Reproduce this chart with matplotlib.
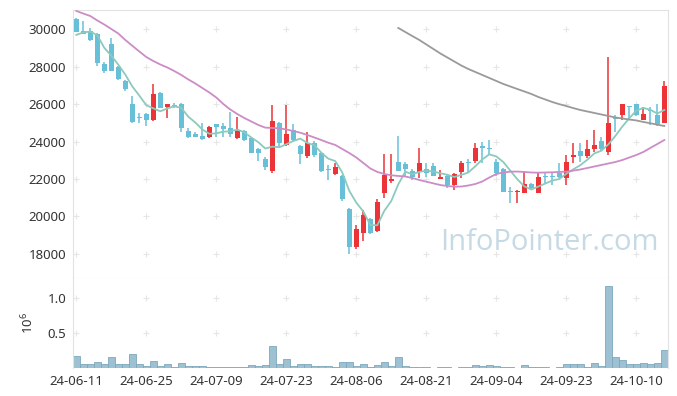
import matplotlib
matplotlib.use("Agg")
import matplotlib.pyplot as plt
from matplotlib.ticker import FuncFormatter
import numpy as np

plt.rcParams["font.family"] = ["Noto Sans", "DejaVu Sans"]
plt.rcParams["mathtext.default"] = "regular"

# daily candles, 24-06-11 .. 24-10-16 (index based axis)
opens = [30550, 29910, 29925, 29750, 28150, 29215, 28000, 27255, 26010, 25315,
         25475, 25155, 26610, 25830, 25980, 26010, 24570, 24410, 24315, 24260,
         24925, 24835, 24730, 24210, 24565, 24210, 23605, 23070, 22445, 24980,
         23845, 24620, 23765, 23230, 23925, 23390, 22510, 22255, 22160, 20380,
         18385, 19100, 19850, 19240, 21270, 21910, 22895, 22805, 22430, 22395,
         22535, 22695, 22020, 22160, 21680, 22395, 22880, 22965, 23780, 23640,
         22925, 22520, 21365, 21310, 21270, 21720, 21270, 22150, 22140, 22305,
         22040, 23160, 23500, 23230, 23590, 24030, 23460, 25230, 25420, 25880,
         26010, 25180, 25680, 25420, 25010]
highs = [30600, 30460, 30050, 29800, 28240, 29520, 28040, 27290, 26440, 25545,
         25530, 27080, 26665, 26035, 26080, 26080, 24710, 24530, 25020, 24810,
         24940, 25010, 25600, 25290, 24620, 24245, 23660, 23180, 25955, 25050,
         25955, 24925, 23820, 24530, 24030, 23445, 22750, 22840, 22215, 20450,
         19545, 20345, 19920, 20920, 23320, 23320, 24300, 22910, 22535, 23645,
         22840, 22840, 22485, 22215, 22325, 22980, 23055, 23940, 23995, 24085,
         23055, 22590, 21590, 21415, 22395, 21790, 22340, 22340, 22395, 22840,
         23285, 23910, 23910, 24085, 24620, 24260, 28505, 25420, 26035, 25920,
         26035, 25850, 25830, 26010, 27240]
lows = [29850, 29750, 29400, 28040, 27650, 27745, 27290, 26720, 25010, 24980,
        24810, 25120, 25770, 25245, 25770, 24530, 24195, 24220, 24085, 24175,
        24260, 24230, 24260, 24165, 24030, 23365, 22980, 22480, 22340, 23730,
        23765, 24030, 22805, 23125, 23180, 22380, 21950, 22215, 20830, 17995,
        18245, 18705, 19065, 19170, 20970, 21805, 22405, 22125, 21950, 22070,
        22125, 22165, 22020, 21540, 21415, 22050, 22340, 22860, 22840, 23285,
        22165, 21310, 20705, 20705, 21240, 21415, 21255, 21790, 21680, 22055,
        21680, 22875, 22925, 23110, 23460, 23500, 23285, 24530, 25155, 25155,
        25365, 25155, 24890, 24835, 25010]
closes = [29870, 29765, 29430, 28215, 27770, 27780, 27345, 26810, 25065, 25280,
          25180, 26545, 25810, 26010, 25900, 24710, 24220, 24260, 24140, 24765,
          24795, 24675, 24380, 24565, 24085, 23410, 23410, 22660, 25100, 23910,
          24405, 24085, 23320, 23940, 23285, 22430, 22460, 22660, 20920, 18355,
          19315, 20080, 19100, 20775, 22215, 21985, 22445, 22535, 22095, 22840,
          22340, 22180, 22095, 21680, 22270, 22875, 22840, 23640, 23640, 23600,
          22340, 21325, 21325, 21345, 21720, 21505, 22125, 22125, 22115, 22125,
          22925, 23285, 23230, 23605, 23820, 23605, 24995, 25200, 26010, 25860,
          25420, 25475, 25650, 24940, 26970]
volumes_m = [0.17, 0.05, 0.05, 0.09, 0.05, 0.16, 0.05, 0.05, 0.20, 0.05,
             0.03, 0.10, 0.03, 0.05, 0.01, 0.07, 0.03, 0.03, 0.03, 0.01,
             0.01, 0.01, 0.02, 0.02, 0.02, 0.04, 0.03, 0.04, 0.32, 0.05,
             0.13, 0.03, 0.05, 0.05, 0.03, 0.03, 0.03, 0.01, 0.08, 0.08,
             0.03, 0.06, 0.01, 0.04, 0.09, 0.03, 0.16, 0.03, 0.01, 0.02,
             0.01, 0.003, 0.01, 0.01, 0.003, 0.01, 0.01, 0.04, 0.03, 0.04,
             0.03, 0.01, 0.01, 0.003, 0.04, 0.01, 0.01, 0.01, 0.003, 0.01,
             0.06, 0.06, 0.05, 0.01, 0.07, 0.03, 1.17, 0.16, 0.12, 0.06,
             0.06, 0.07, 0.06, 0.07, 0.26]

# moving averages
ma5 = [29700, 29830, 29880, 29680, 29010, 28590, 28110, 27580, 26950, 26460,
       25940, 25780, 25620, 25770, 25890, 25800, 25330, 25020, 24650, 24420,
       24440, 24530, 24550, 24640, 24500, 24220, 23970, 23630, 23730, 23700,
       23860, 24030, 24160, 23930, 23810, 23410, 23090, 22960, 22350, 21370,
       20740, 20270, 19550, 19530, 20300, 20830, 21720, 22390, 22260, 22380,
       22450, 22400, 22310, 22230, 22110, 22220, 22350, 22680, 23050, 23320,
       23210, 22910, 22450, 21990, 21610, 21440, 21600, 21760, 21920, 22000,
       22280, 22520, 22740, 23030, 23370, 23510, 23850, 24300, 24800, 25250,
       25650, 25800, 25700, 25500, 25690]
ma20 = [30980, 30840, 30710, 30470, 30255, 30015, 29775, 29430, 29120, 28815,
        28520, 28305, 28120, 27960, 27770, 27560, 27320, 27105, 26865, 26625,
        26355, 26010, 25715, 25475, 25260, 25075, 24890, 24745, 24730, 24710,
        24650, 24565, 24475, 24355, 24220, 24085, 23940, 23820, 23605, 23390,
        23150, 22860, 22565, 22380, 22270, 22200, 22165, 22135, 22055, 21950,
        21860, 21770, 21680, 21630, 21590, 21600, 21655, 21735, 21870, 22080,
        22270, 22350, 22395, 22400, 22380, 22350, 22340, 22350, 22360, 22380,
        22395, 22450, 22510, 22590, 22670, 22750, 22830, 22910, 23015, 23150,
        23285, 23445, 23660, 23870, 24085]
ma60_start = 46
ma60 = [30070, 29855, 29640, 29430, 29190, 28950, 28710, 28495, 28280, 28065,
        27880, 27720, 27560, 27400, 27240, 27080, 26945, 26810, 26680, 26545,
        26385, 26250, 26115, 26000, 25900, 25790, 25690, 25610, 25530, 25450,
        25370, 25290, 25235, 25180, 25130, 25050, 24980, 24905, 24835]

tick_pos = [0, 10, 20, 30, 40, 50, 60, 70, 80]
tick_labels = ["24-06-11", "24-06-25", "24-07-09", "24-07-23", "24-08-06",
               "24-08-21", "24-09-04", "24-09-23", "24-10-10"]
price_ticks = [18000, 20000, 22000, 24000, 26000, 28000, 30000]

UP = "#eb3338"
DOWN = "#68c0d8"
SPINE = "#e2e2e2"
TXT = "#333333"
GRIDMARK = "#e6e6e6"

W, H = 677, 396
fig = plt.figure(figsize=(W / 100, H / 100), dpi=100)


def px_axes(left, top, right, bottom):
    return fig.add_axes([left / W, 1 - bottom / H, (right - left) / W, (bottom - top) / H])


ax = px_axes(73, 10, 668, 278)
axv = px_axes(73, 278, 668, 368)

x = np.arange(len(closes))
o = np.array(opens)
c = np.array(closes)
colors = [UP if cc > oo else DOWN for oo, cc in zip(o, c)]
body = np.maximum(np.abs(c - o), 60)
bottom = np.minimum(o, c)

ax.vlines(x, lows, highs, colors=colors, lw=1.1, zorder=2)
ax.bar(x, body, bottom=bottom, width=0.72, color=colors, lw=0, zorder=3)

ax.plot(x, ma5, color="#8ccabd", lw=1.3, zorder=4)
ax.plot(x, ma20, color="#cc8cc6", lw=1.3, zorder=4)
ax.plot(x[ma60_start:], ma60, color="#9a9a9a", lw=1.3, zorder=4)

# faint "+" marks where grid lines would cross
gx, gy = np.meshgrid(tick_pos, price_ticks)
ax.scatter(gx.ravel(), gy.ravel(), marker="+", s=16, color=GRIDMARK, lw=0.8, zorder=1)

ax.text(0.985, 0.08, "InfoPointer.com", transform=ax.transAxes, ha="right", va="bottom",
        fontsize=21, color="#c6dae5", family=["Open Sans", "DejaVu Sans"], zorder=0)

ax.set_xlim(-0.47, 84.53)
ax.set_ylim(16714, 31030)
ax.set_yticks(price_ticks)
ax.set_yticklabels([str(v) for v in price_ticks])
ax.set_xticks([])

axv.bar(x, np.array(volumes_m) * 1e6, width=1.0, color="#9dc1d2", edgecolor="#7ea8bd", lw=0.6)
vx, vy = np.meshgrid(tick_pos, [0.5e6, 1.0e6])
axv.scatter(vx.ravel(), vy.ravel(), marker="+", s=16, color=GRIDMARK, lw=0.8, zorder=0)
axv.set_xlim(-0.47, 84.53)
axv.set_ylim(0, 1.28e6)
axv.set_yticks([0.5e6, 1.0e6])
axv.yaxis.set_major_formatter(FuncFormatter(lambda v, p: f"{v / 1e6:.1f}"))
axv.set_xticks(tick_pos)
axv.set_xticklabels(tick_labels)
axv.set_ylabel(r"$10^6$", color=TXT, fontsize=9.5, labelpad=8)

for a in (ax, axv):
    for s in a.spines.values():
        s.set_color(SPINE)
    a.tick_params(length=0, colors=TXT, labelsize=9.5, pad=5)
axv.spines["bottom"].set_visible(False)
axv.spines["top"].set_visible(False)

fig.savefig("out.png", dpi=100)
